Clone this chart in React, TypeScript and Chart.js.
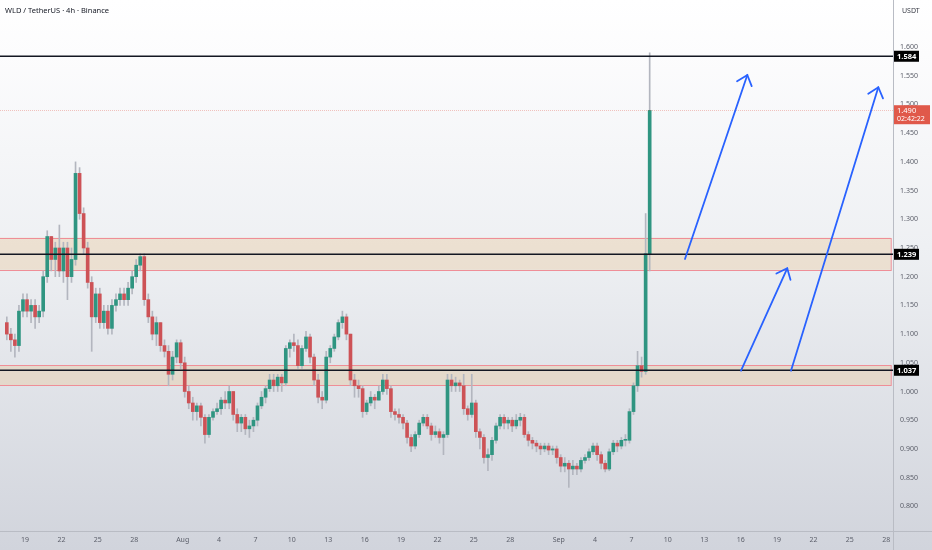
import React, { useEffect, useRef } from "react";
import { Chart, registerables } from "chart.js";

Chart.register(...registerables);

// Time axis: days counted from Jul 19; candles every 8h starting Jul 17 12:00
const startDay = -1.5;
const stepDay = 1 / 3;
const firstOpen = 1.12;

const closes = [
  1.10, 1.09, 1.08, 1.14, 1.16, 1.14, 1.15, 1.13, 1.14, 1.20,
  1.27, 1.23, 1.25, 1.21, 1.25, 1.20, 1.23, 1.38, 1.31, 1.25,
  1.19, 1.13, 1.17, 1.12, 1.14, 1.11, 1.15, 1.16, 1.17, 1.16,
  1.18, 1.20, 1.22, 1.235, 1.16, 1.13, 1.10, 1.12, 1.08, 1.07,
  1.03, 1.06, 1.085, 1.05, 1.00, 0.98, 0.965, 0.975, 0.955, 0.925,
  0.955, 0.965, 0.97, 0.985, 0.98, 1.00, 0.96, 0.945, 0.955, 0.935,
  0.94, 0.95, 0.975, 0.99, 1.005, 1.02, 1.01, 1.025, 1.015, 1.075,
  1.085, 1.08, 1.045, 1.075, 1.095, 1.06, 1.02, 0.99, 0.985, 1.06,
  1.075, 1.095, 1.12, 1.13, 1.10, 1.02, 1.01, 1.005, 0.965, 0.98,
  0.99, 0.985, 1.00, 1.02, 1.005, 0.965, 0.96, 0.955, 0.945, 0.92,
  0.905, 0.925, 0.945, 0.955, 0.94, 0.925, 0.93, 0.92, 0.925, 1.02,
  1.01, 1.015, 1.01, 0.97, 0.96, 0.98, 0.93, 0.92, 0.885, 0.89,
  0.915, 0.94, 0.955, 0.945, 0.95, 0.94, 0.95, 0.955, 0.925, 0.915,
  0.91, 0.905, 0.90, 0.905, 0.898, 0.90, 0.885, 0.87, 0.875, 0.865,
  0.87, 0.865, 0.88, 0.885, 0.895, 0.905, 0.89, 0.875, 0.865, 0.895,
  0.91, 0.905, 0.915, 0.915, 0.965, 1.01, 1.045, 1.035, 1.24, 1.49,
];

const highs = [
  1.13, 1.11, 1.10, 1.15, 1.17, 1.17, 1.16, 1.16, 1.15, 1.21,
  1.28, 1.27, 1.26, 1.29, 1.26, 1.26, 1.25, 1.40, 1.39, 1.32,
  1.26, 1.20, 1.18, 1.18, 1.15, 1.15, 1.16, 1.17, 1.18, 1.18,
  1.19, 1.21, 1.23, 1.24, 1.24, 1.17, 1.14, 1.13, 1.12, 1.09,
  1.08, 1.07, 1.09, 1.09, 1.06, 1.01, 0.99, 0.98, 0.98, 0.96,
  0.96, 0.97, 0.98, 0.99, 1.00, 1.01, 1.00, 0.97, 0.96, 0.96,
  0.95, 0.955, 0.98, 1.00, 1.01, 1.03, 1.03, 1.03, 1.03, 1.08,
  1.09, 1.10, 1.09, 1.08, 1.105, 1.10, 1.065, 1.03, 1.00, 1.07,
  1.08, 1.10, 1.125, 1.14, 1.135, 1.10, 1.03, 1.02, 1.01, 0.985,
  1.00, 0.995, 1.01, 1.03, 1.03, 1.01, 0.97, 0.97, 0.96, 0.95,
  0.925, 0.93, 0.95, 0.96, 0.96, 0.945, 0.94, 0.935, 0.93, 1.03,
  1.03, 1.025, 1.02, 1.03, 0.975, 1.03, 0.985, 0.935, 0.925, 0.90,
  0.92, 0.945, 0.96, 0.96, 0.955, 0.955, 0.96, 0.962, 0.96, 0.93,
  0.92, 0.915, 0.91, 0.91, 0.91, 0.905, 0.905, 0.89, 0.885, 0.88,
  0.88, 0.875, 0.885, 0.89, 0.90, 0.91, 0.91, 0.895, 0.88, 0.90,
  0.915, 0.915, 0.92, 0.925, 0.97, 1.015, 1.07, 1.06, 1.31, 1.59,
];

const lows = [
  1.09, 1.07, 1.06, 1.07, 1.13, 1.13, 1.12, 1.11, 1.12, 1.13,
  1.19, 1.21, 1.20, 1.20, 1.19, 1.16, 1.19, 1.22, 1.30, 1.24,
  1.18, 1.07, 1.12, 1.11, 1.11, 1.10, 1.10, 1.14, 1.15, 1.15,
  1.15, 1.17, 1.19, 1.21, 1.15, 1.12, 1.09, 1.08, 1.07, 1.06,
  1.01, 1.02, 1.05, 1.04, 0.99, 0.97, 0.95, 0.95, 0.94, 0.91,
  0.92, 0.95, 0.96, 0.96, 0.97, 0.97, 0.95, 0.93, 0.93, 0.925,
  0.92, 0.93, 0.94, 0.97, 0.98, 1.00, 1.00, 1.00, 1.00, 1.01,
  1.06, 1.07, 1.04, 1.04, 1.07, 1.05, 1.01, 0.98, 0.97, 0.98,
  1.05, 1.07, 1.09, 1.11, 1.09, 1.01, 0.99, 0.99, 0.955, 0.96,
  0.975, 0.97, 0.985, 0.995, 0.995, 0.955, 0.95, 0.945, 0.935, 0.91,
  0.895, 0.90, 0.92, 0.94, 0.935, 0.915, 0.92, 0.91, 0.89, 0.92,
  1.00, 1.00, 1.00, 0.96, 0.95, 0.955, 0.92, 0.90, 0.875, 0.862,
  0.88, 0.91, 0.935, 0.935, 0.935, 0.93, 0.935, 0.94, 0.92, 0.905,
  0.90, 0.895, 0.89, 0.895, 0.89, 0.89, 0.875, 0.86, 0.86, 0.833,
  0.855, 0.855, 0.86, 0.875, 0.88, 0.89, 0.88, 0.865, 0.86, 0.862,
  0.89, 0.895, 0.90, 0.905, 0.91, 0.96, 1.00, 1.025, 1.03, 1.21,
];

const xTickDays = [0, 3, 6, 9, 13, 16, 19, 22, 25, 28, 31, 34, 37, 40, 44, 47, 50, 53, 56, 59, 62, 65, 68, 71];
const xTickLabels = ["19", "22", "25", "28", "Aug", "4", "7", "10", "13", "16", "19", "22", "25", "28", "Sep", "4", "7", "10", "13", "16", "19", "22", "25", "28"];
const yTicks = [0.8, 0.85, 0.9, 0.95, 1.0, 1.05, 1.1, 1.15, 1.2, 1.25, 1.3, 1.35, 1.4, 1.45, 1.5, 1.55, 1.6];

const levelPrices = [1.584, 1.239, 1.037];
const currentPrice = 1.49;
const countdown = "02:42:22";

const zoneTops = [1.268, 1.046];
const zoneBottoms = [1.212, 1.011];
const zoneEndDay = 71.37;

const arrowStartDays = [54.41, 59.03, 63.15];
const arrowStartPrices = [1.2308, 1.0362, 1.0362];
const arrowEndDays = [59.55, 62.84, 70.35];
const arrowEndPrices = [1.5514, 1.2146, 1.53];

const headerText = "WLD / TetherUS · 4h · Binance";
const currencyText = "USDT";

const UP = "#2f9581";
const DOWN = "#cd5256";
const WICK = "#b3b6bf";
const FONT = "'Noto Sans', 'DejaVu Sans', sans-serif";

const opens = closes.map((c, i) => (i === 0 ? firstOpen : closes[i - 1]));

export default function App() {
  const ref = useRef<HTMLCanvasElement | null>(null);

  useEffect(() => {
    document.body.style.margin = "0";
    const canvas = ref.current;
    if (!canvas) return;

    const xs = closes.map((_, i) => startDay + i * stepDay);
    const colors = closes.map((c, i) => (c >= opens[i] ? UP : DOWN));

    const bgPlugin = {
      id: "bgGradient",
      beforeDraw(chart: any) {
        const { ctx, width, height } = chart;
        const g = ctx.createLinearGradient(0, 0, 0, height);
        g.addColorStop(0, "#ffffff");
        g.addColorStop(0.1, "#fcfcfd");
        g.addColorStop(0.45, "#eef0f3");
        g.addColorStop(1, "#d1d4dc");
        ctx.save();
        ctx.fillStyle = g;
        ctx.fillRect(0, 0, width, height);
        ctx.restore();
      },
    };

    const overlayPlugin = {
      id: "overlay",
      beforeDatasetsDraw(chart: any) {
        const { ctx, chartArea, scales } = chart;
        const x = scales.x;
        const y = scales.y;
        ctx.save();
        ctx.beginPath();
        ctx.rect(chartArea.left, chartArea.top, chartArea.right - chartArea.left, chartArea.bottom - chartArea.top);
        ctx.clip();
        zoneTops.forEach((top, i) => {
          const y1 = y.getPixelForValue(top);
          const y2 = y.getPixelForValue(zoneBottoms[i]);
          const x1 = chartArea.left - 2;
          const x2 = x.getPixelForValue(zoneEndDay);
          ctx.fillStyle = "rgba(232, 196, 150, 0.36)";
          ctx.fillRect(x1, y1, x2 - x1, y2 - y1);
          ctx.strokeStyle = "#ef8e97";
          ctx.lineWidth = 1;
          ctx.strokeRect(x1 + 0.5, Math.round(y1) + 0.5, x2 - x1, Math.round(y2 - y1));
        });
        ctx.restore();
      },
      afterDatasetsDraw(chart: any) {
        const { ctx, chartArea, scales } = chart;
        const x = scales.x;
        const y = scales.y;
        ctx.save();
        // current price line
        const cy = Math.round(y.getPixelForValue(currentPrice)) + 0.5;
        ctx.strokeStyle = "rgba(226, 91, 75, 0.35)";
        ctx.lineWidth = 1;
        ctx.setLineDash([1, 1]);
        ctx.beginPath();
        ctx.moveTo(chartArea.left, cy);
        ctx.lineTo(chartArea.right, cy);
        ctx.stroke();
        ctx.setLineDash([]);
        // level lines
        levelPrices.forEach((p) => {
          const py = y.getPixelForValue(p);
          ctx.strokeStyle = "#131722";
          ctx.lineWidth = 1.5;
          ctx.beginPath();
          ctx.moveTo(chartArea.left, py);
          ctx.lineTo(chartArea.right, py);
          ctx.stroke();
        });
        // arrows
        ctx.strokeStyle = "#2962ff";
        ctx.lineWidth = 1.8;
        ctx.lineCap = "round";
        arrowStartDays.forEach((sd, i) => {
          const x1 = x.getPixelForValue(sd);
          const y1 = y.getPixelForValue(arrowStartPrices[i]);
          const x2 = x.getPixelForValue(arrowEndDays[i]);
          const y2 = y.getPixelForValue(arrowEndPrices[i]);
          ctx.beginPath();
          ctx.moveTo(x1, y1);
          ctx.lineTo(x2, y2);
          ctx.stroke();
          const ang = Math.atan2(y1 - y2, x1 - x2);
          const len = 12;
          const spread = (40 * Math.PI) / 180;
          ctx.beginPath();
          ctx.moveTo(x2 + len * Math.cos(ang - spread), y2 + len * Math.sin(ang - spread));
          ctx.lineTo(x2, y2);
          ctx.lineTo(x2 + len * Math.cos(ang + spread), y2 + len * Math.sin(ang + spread));
          ctx.stroke();
        });
        ctx.restore();
      },
      afterDraw(chart: any) {
        const { ctx, chartArea, scales, width, height } = chart;
        const y = scales.y;
        ctx.save();
        // axis borders
        ctx.strokeStyle = "#b9bcc4";
        ctx.lineWidth = 1;
        ctx.beginPath();
        ctx.moveTo(0, chartArea.bottom + 0.5);
        ctx.lineTo(width, chartArea.bottom + 0.5);
        ctx.moveTo(chartArea.right + 0.5, 0);
        ctx.lineTo(chartArea.right + 0.5, height);
        ctx.stroke();

        // level labels
        ctx.textBaseline = "middle";
        ctx.textAlign = "left";
        levelPrices.forEach((p) => {
          const py = y.getPixelForValue(p);
          ctx.fillStyle = "#000000";
          ctx.fillRect(chartArea.right + 1, py - 5.5, 25, 11);
          ctx.fillStyle = "#ffffff";
          ctx.font = `bold 7.5px ${FONT}`;
          ctx.fillText(p.toFixed(3), chartArea.right + 4, py + 0.5);
        });

        // current price label
        const cy = y.getPixelForValue(currentPrice);
        ctx.fillStyle = "#e0594a";
        ctx.fillRect(chartArea.right + 1, cy - 5, 36, 19);
        ctx.fillStyle = "#ffffff";
        ctx.font = `7.5px ${FONT}`;
        ctx.fillText(currentPrice.toFixed(3), chartArea.right + 4, cy + 0.5);
        ctx.font = `7px ${FONT}`;
        ctx.fillText(countdown, chartArea.right + 4, cy + 9);

        // header and currency
        ctx.fillStyle = "#131722";
        ctx.font = `7.5px ${FONT}`;
        ctx.fillText(headerText, 5, 10.5);
        ctx.fillStyle = "#3b3e48";
        ctx.font = `7px ${FONT}`;
        ctx.fillText(currencyText, chartArea.right + 9, 10.5);
        ctx.restore();
      },
    };

    const chart = new Chart(canvas, {
      type: "bar",
      data: {
        datasets: [
          {
            label: "wicks",
            data: xs.map((d, i) => ({ x: d, y: [lows[i], highs[i]] })) as any,
            backgroundColor: WICK,
            barThickness: 1,
            grouped: false,
            order: 2,
            minBarLength: 1,
          } as any,
          {
            label: "bodies",
            data: xs.map((d, i) => ({ x: d, y: [opens[i], closes[i]] })) as any,
            backgroundColor: colors,
            barThickness: 3,
            grouped: false,
            order: 1,
            minBarLength: 1,
          } as any,
        ],
      },
      options: {
        animation: false,
        responsive: false,
        maintainAspectRatio: false,
        layout: { padding: 0 },
        plugins: {
          legend: { display: false },
          tooltip: { enabled: false },
          title: { display: false },
        },
        scales: {
          x: {
            type: "linear",
            min: -2.061,
            max: 71.56,
            offset: false,
            grid: { display: false, drawTicks: false },
            border: { display: false },
            afterBuildTicks: (axis: any) => {
              axis.ticks = xTickDays.map((v) => ({ value: v }));
            },
            afterFit: (axis: any) => {
              axis.height = 19;
              axis.paddingLeft = 0;
              axis.paddingRight = 0;
            },
            ticks: {
              autoSkip: false,
              maxRotation: 0,
              minRotation: 0,
              padding: 5,
              color: "#5d606b",
              font: { size: 7, family: FONT },
              callback: (_v: any, idx: number) => xTickLabels[idx] ?? "",
            },
          },
          y: {
            type: "linear",
            position: "right",
            min: 0.757,
            max: 1.682,
            grid: { display: false, drawTicks: false },
            border: { display: false },
            afterBuildTicks: (axis: any) => {
              axis.ticks = yTicks.map((v) => ({ value: v }));
            },
            afterFit: (axis: any) => {
              axis.width = 39;
              axis.paddingTop = 0;
              axis.paddingBottom = 0;
            },
            ticks: {
              padding: 7,
              color: "#5d606b",
              font: { size: 7, family: FONT },
              callback: (v: any) => Number(v).toFixed(3),
            },
          },
        },
      } as any,
      plugins: [bgPlugin, overlayPlugin],
    });

    return () => chart.destroy();
  }, []);

  return (
    <div style={{ width: 932, height: 550 }}>
      <canvas ref={ref} width={932} height={550} style={{ display: "block" }} />
    </div>
  );
}
